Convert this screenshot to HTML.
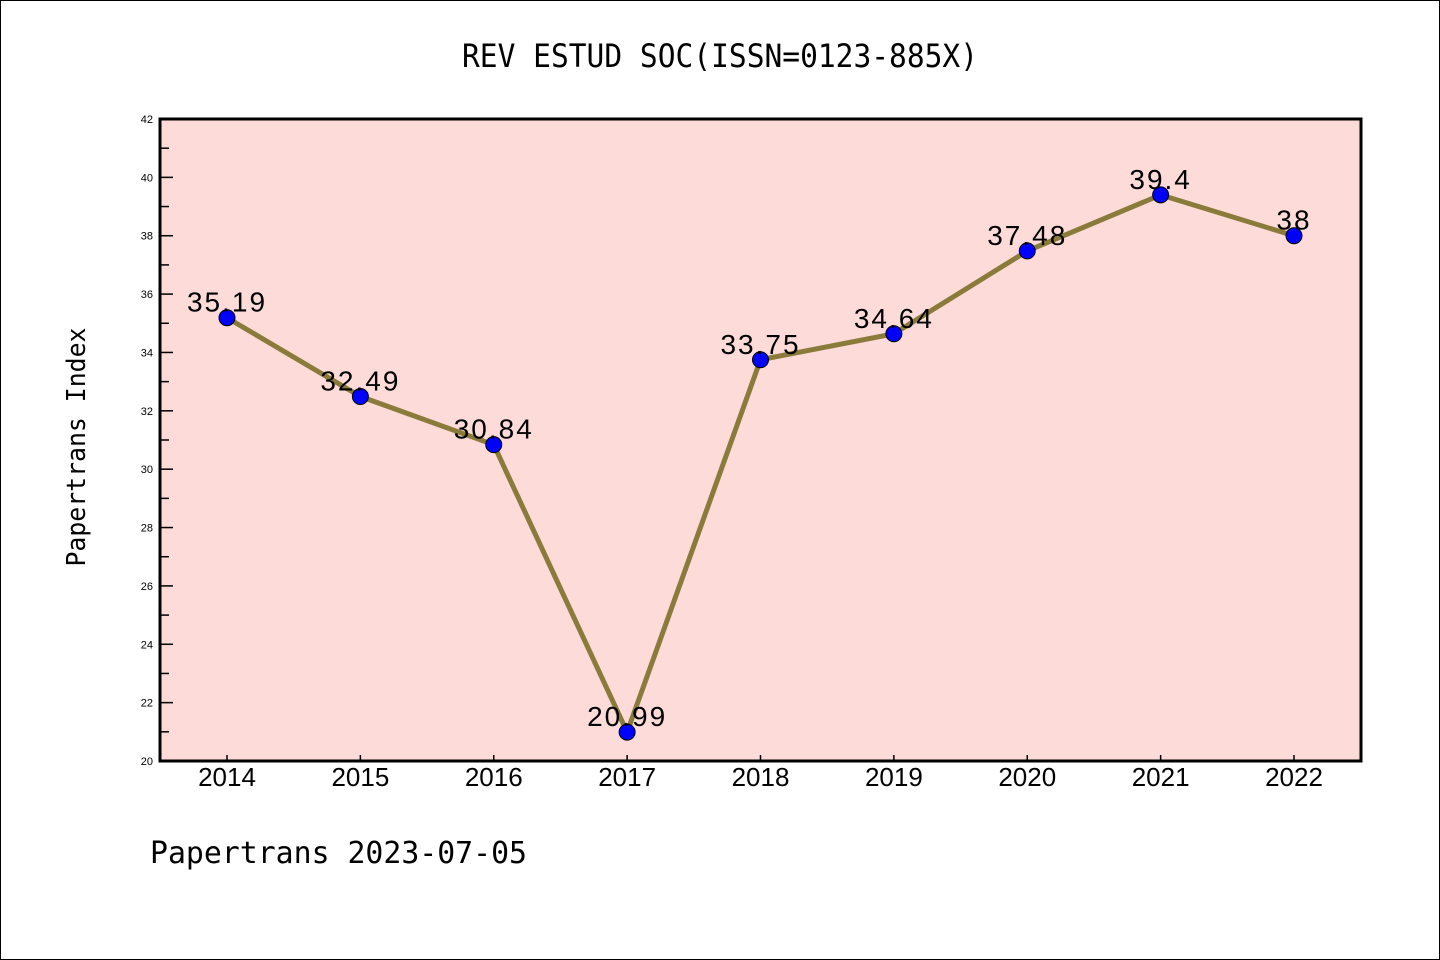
<!DOCTYPE html>
<html><head><meta charset="utf-8"><style>
html,body{margin:0;padding:0;background:#fff}
svg{display:block}
</style></head><body>
<svg id="chart" width="1440" height="960" xmlns="http://www.w3.org/2000/svg">
<rect x="0.5" y="0.5" width="1439" height="959" fill="#fff" stroke="#000" stroke-width="1"/>
<text x="720" y="67" text-anchor="middle" font-family="'WenQuanYi Zen Hei Mono','WenQuanYi Zen Hei',monospace" font-size="32" textLength="516" lengthAdjust="spacingAndGlyphs" fill="#000">REV ESTUD SOC(ISSN=0123-885X)</text>
<rect x="160" y="119" width="1201" height="642" fill="#fddbd8"/>
<g id="yticks"></g>
<g id="xticks"></g>
<g id="series"></g>
<rect x="160" y="119" width="1201" height="642" fill="none" stroke="#000" stroke-width="3"/>
<text transform="translate(85,447) rotate(-90)" text-anchor="middle" font-family="'WenQuanYi Zen Hei Mono','WenQuanYi Zen Hei',monospace" font-size="26" textLength="239" lengthAdjust="spacingAndGlyphs" fill="#000">Papertrans Index</text>
<text x="150" y="863" font-family="'WenQuanYi Zen Hei Mono','WenQuanYi Zen Hei',monospace" font-size="30" textLength="377" lengthAdjust="spacingAndGlyphs" fill="#000">Papertrans 2023-07-05</text>
</svg>
<script>
const years = ['2014','2015','2016','2017','2018','2019','2020','2021','2022'];
const values = [35.19, 32.49, 30.84, 20.99, 33.75, 34.64, 37.48, 39.4, 38];
const valueLabels = ['35.19','32.49','30.84','20.99','33.75','34.64','37.48','39.4','38'];
const yTicks = [20,22,24,26,28,30,32,34,36,38,40,42];
const yMin = 20, yMax = 42;
const NS = 'http://www.w3.org/2000/svg';
function yScale(v){ return 761 - (v - yMin) / (yMax - yMin) * 642; }
function xScale(i){ return 227 + i * (1294 - 227) / (years.length - 1); }
function mk(tag, attrs, parent){ const e = document.createElementNS(NS, tag); for (const k in attrs) e.setAttribute(k, attrs[k]); parent.appendChild(e); return e; }
const yg = document.getElementById('yticks');
yTicks.forEach(function(t, i){
  const y = yScale(t);
  const tk = mk('line', {x1:160, x2:173, y1:y, y2:y, stroke:'#000', 'stroke-width':1.5}, yg);
  
  
  const lb = mk('text', {x:153, y:y+4, 'text-anchor':'end', 'font-family':'Liberation Sans, sans-serif', 'font-size':11, fill:'#000'}, yg);
  lb.textContent = t;
  
  
  if (i < yTicks.length - 1) {
    const ym = yScale(t + 1);
    const mn = mk('line', {x1:160, x2:169, y1:ym, y2:ym, stroke:'#000', 'stroke-width':1.5}, yg);
    
    
  }
});
const xg = document.getElementById('xticks');
years.forEach(function(yr, i){
  const x = xScale(i);
  const tk = mk('line', {x1:x, x2:x, y1:761, y2:755, stroke:'#000', 'stroke-width':1.5}, xg);
  
  
  const lb = mk('text', {x:x, y:786, 'text-anchor':'middle', 'font-family':'Liberation Sans, sans-serif', 'font-size':26, fill:'#000'}, xg);
  lb.textContent = yr;
  
  
});
const sg = document.getElementById('series');
const pts = values.map(function(v, i){ return xScale(i) + ',' + yScale(v); }).join(' ');
const line = mk('polyline', {points:pts, fill:'none', stroke:'#8b7b3a', 'stroke-width':5, 'stroke-linejoin':'round'}, sg);


values.forEach(function(v, i){
  const x = xScale(i), y = yScale(v);
  const c = mk('circle', {cx:x, cy:y, r:8, fill:'#0000ff', stroke:'#000', 'stroke-width':1}, sg);
  
  
  const t = mk('text', {x:x, y:y - 6, 'text-anchor':'middle', 'font-family':'Liberation Sans, sans-serif', 'font-size':28, 'letter-spacing':2, fill:'#000'}, sg);
  t.textContent = valueLabels[i];
  
  
});
</script>
</body></html>
